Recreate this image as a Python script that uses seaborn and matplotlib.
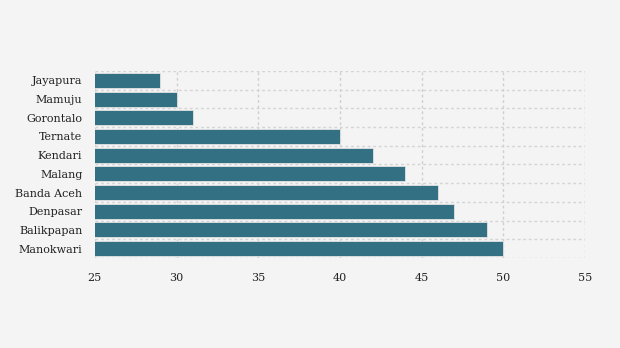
import matplotlib
matplotlib.use("Agg")
import matplotlib.pyplot as plt
import seaborn as sns
import pandas as pd
import numpy as np

cities = ["Jayapura", "Mamuju", "Gorontalo", "Ternate", "Kendari", "Malang",
          "Banda Aceh", "Denpasar", "Balikpapan", "Manokwari"]
values = [29, 30, 31, 40, 42, 44, 46, 47, 49, 50]
xticks = [25, 30, 35, 40, 45, 50, 55]

sns.set_style("white")
plt.rcParams['font.family'] = ['DejaVu Serif']

df = pd.DataFrame({"city": cities, "value": values})
fig = plt.figure(figsize=(6.2, 3.48), dpi=100, facecolor="#f4f4f4")
ax = fig.add_axes([0.153, 0.2586, 0.7905, 0.5374])
ax.set_facecolor("#f4f4f4")
ax.set_axisbelow(True)
ax.set_xlim(25, 55)
ax.set_xticks(xticks)
sns.barplot(data=df, x="value", y="city", color="#2b6b7f", saturation=1,
            width=0.8, edgecolor="#e6e6e6", linewidth=0.6, alpha=0.96, ax=ax, zorder=2)
ax.set_xlim(25, 55)
ax.set_ylim(len(cities) - 0.5, -0.5)
ax.set_xticks(xticks)
ax.set_xticklabels([str(t) for t in xticks], fontsize=8, color="#222222")
ax.set_yticks(range(len(cities)))
ax.set_yticklabels(cities, fontsize=8, color="#222222")
ax.set_yticks(np.arange(-0.5, len(cities), 1.0), minor=True)
ax.tick_params(axis="y", which="major", length=4, color="#dddddd", width=1, pad=5)
ax.tick_params(axis="y", which="minor", length=0)
ax.tick_params(axis="x", length=0, pad=11)
ax.xaxis.grid(True, which="major", linestyle=(0, (2, 2)), color="#cfcfcf", linewidth=1)
ax.yaxis.grid(True, which="minor", linestyle=(0, (2, 2)), color="#d4d4d4", linewidth=1)
ax.yaxis.grid(False, which="major")
for s in ax.spines.values():
    s.set_visible(False)
ax.set_xlabel("")
ax.set_ylabel("")
fig.savefig("out.png", dpi=100, facecolor="#f4f4f4")
